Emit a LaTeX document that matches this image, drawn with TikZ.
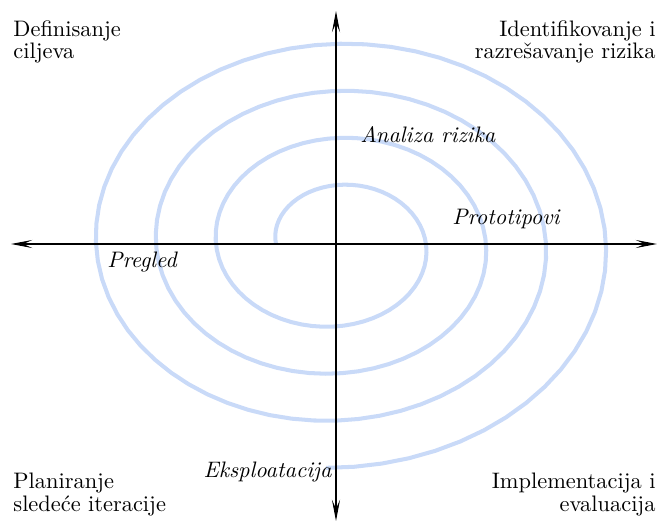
\documentclass[tikz,border=0pt]{standalone}
\usepackage{xcolor}
\usepackage{tikz}
\usetikzlibrary{arrows.meta,positioning}
\definecolor{spiralblue}{HTML}{C9DAF8}
\tikzstyle{axis} = [{Stealth[length=9.5pt,width=3.6pt,inset=4pt]}-{Stealth[length=9.5pt,width=3.6pt,inset=4pt]}, line width=0.5pt, black]
\tikzstyle{spiral} = [line width=1.8pt, spiralblue]
\tikzstyle{corner} = [inner sep=0pt, font=\fontsize{10}{8.6}\selectfont]
\tikzstyle{phase} = [inner sep=0pt, font=\itshape]

\begin{document}
\begin{tikzpicture}[x=0.4464pt, y=0.4464pt]
\useasboundingbox (-336,-278) rectangle (321,244);
\coordinate (O) at (0,0);
\coordinate (west) at (-325,0);
\coordinate (east) at (321,0);
\coordinate (north) at (0,233);
\coordinate (south) at (0,-277);

% spiral
\draw[spiral] plot[domain=0:1352, samples=240, variable=\t]
    ({(60+\t/6)*cos(180-\t)}, {0.785*(60+\t/6)*sin(180-\t)});

% axes
\draw[axis] (west) -- (east);
\draw[axis] (south) -- (north);

% quadrants
\node[corner, anchor=north west, align=left] (ciljevi) at (-323,224) {Definisanje\\ciljeva};
\node[corner, anchor=north east, align=right] (rizici) at (320,224) {Identifikovanje i\\razre\v{s}avanje rizika};
\node[corner, anchor=north west, align=left] (planiranje) at (-323,-229) {Planiranje\\slede\'{c}e iteracije};
\node[corner, anchor=north east, align=right] (implementacija) at (320,-229) {Implementacija i\\evaluacija};

% phases
\node[phase, anchor=base west] (analiza) at (24,102) {Analiza rizika};
\node[phase, anchor=base west] (prototipovi) at (116,20) {Prototipovi};
\node[phase, anchor=base west] (pregled) at (-229,-23) {Pregled};
\node[phase, anchor=base east] (eksploatacija) at (-4,-233) {Eksploatacija};
\end{tikzpicture}
\end{document}
